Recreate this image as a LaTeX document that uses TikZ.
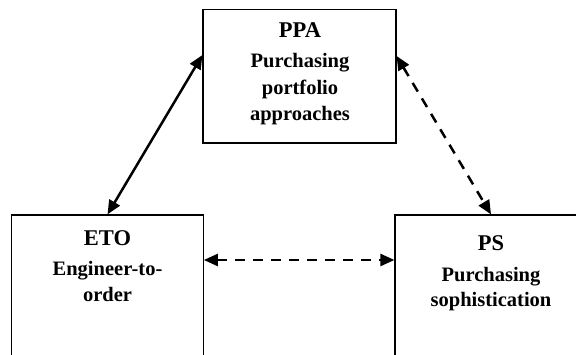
\documentclass[tikz,border=0pt]{standalone}
\usepackage{fontspec}
\setmainfont{Liberation Serif}
\usetikzlibrary{arrows.meta}
\tikzset{
  box/.style={draw=black, line width=1.2pt, rectangle, inner sep=0pt},
  title/.style={anchor=base, inner sep=0pt, font=\fontsize{22.5}{26}\selectfont\bfseries},
  line/.style={anchor=base, inner sep=0pt, font=\fontsize{20.5}{24}\selectfont\bfseries},
  link/.style={line width=2.5pt, {Triangle[length=14pt,width=12pt]}-{Triangle[length=14pt,width=12pt]}},
  dashlink/.style={link, dash pattern=on 10pt off 8pt}
}
\begin{document}
\begin{tikzpicture}[x=1pt, y=-1pt]
  \useasboundingbox (0,0) rectangle (576,355);
  \clip (0,0) rectangle (576,355);

  % the three concept boxes
  \node[box, minimum width=193pt, minimum height=133.5pt] (ppa) at (299.5,76.25) {};
  \node[box, minimum width=191.5pt, minimum height=150pt] (eto) at (107.5,290) {};
  \node[box, minimum width=192pt, minimum height=150pt] (ps) at (491,290) {};

  % box texts
  \node[title] (ppaT) at (300,38) {PPA};
  \node[line] (ppa1) at (300,68) {Purchasing};
  \node[line] (ppa2) at (300,95) {portfolio};
  \node[line] (ppa3) at (300,121) {approaches};

  \node[title] (etoT) at (107.5,246) {ETO};
  \node[line] (eto1) at (107.5,276) {Engineer-to-};
  \node[line] (eto2) at (107.5,302) {order};

  \node[title] (psT) at (491,251) {PS};
  \node[line] (ps1) at (491,282) {Purchasing};
  \node[line] (ps2) at (491,307) {sophistication};

  % relations between the concepts
  \draw[link] (eto.north) -- (ppa.west |- 0,55);
  \draw[dashlink] (ppa.east |- 0,56) -- (ps.north);
  \draw[dashlink] (eto.east |- 0,260) -- (ps.west |- 0,260);
\end{tikzpicture}
\end{document}
